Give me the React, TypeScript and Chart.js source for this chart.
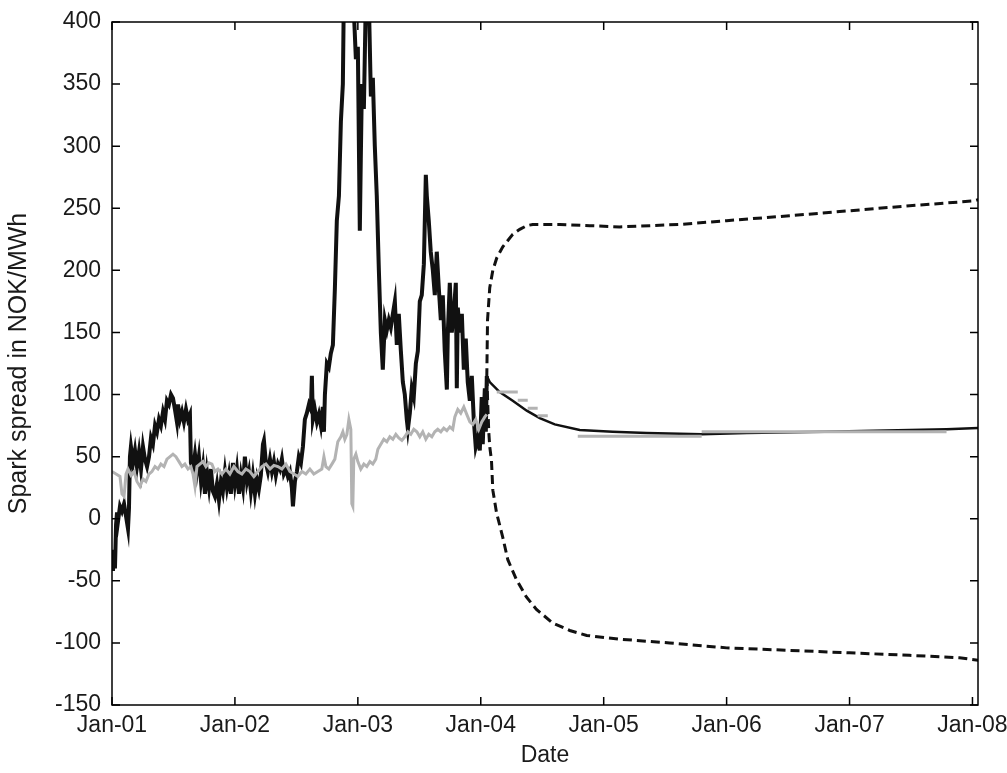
import React, { useEffect, useRef } from "react";
import { Chart, registerables } from "chart.js";

Chart.register(...registerables);

// time axis: years since Jan-01 (2001)
const tickLabels = ["Jan-01", "Jan-02", "Jan-03", "Jan-04", "Jan-05", "Jan-06", "Jan-07", "Jan-08"];

// historical spark spread (black)
const histT = [0.000,0.008,0.016,0.024,0.033,0.041,0.049,0.065,0.081,0.098,0.114,0.130,0.138,0.146,0.154,0.171,0.187,0.203,0.220,0.236,0.252,0.268,0.285,0.301,0.317,0.333,0.350,0.366,0.382,0.398,0.415,0.431,0.447,0.463,0.480,0.496,0.512,0.528,0.537,0.553,0.569,0.585,0.602,0.618,0.634,0.642,0.659,0.675,0.691,0.707,0.724,0.740,0.756,0.772,0.789,0.805,0.821,0.837,0.854,0.870,0.886,0.902,0.919,0.935,0.951,0.967,0.984,1.000,1.016,1.033,1.049,1.065,1.081,1.098,1.114,1.130,1.146,1.163,1.179,1.195,1.211,1.228,1.236,1.252,1.268,1.285,1.301,1.317,1.333,1.350,1.366,1.382,1.398,1.415,1.431,1.447,1.463,1.472,1.488,1.504,1.520,1.537,1.553,1.569,1.585,1.602,1.618,1.626,1.634,1.650,1.667,1.683,1.699,1.715,1.724,1.732,1.748,1.764,1.780,1.797,1.813,1.829,1.846,1.862,1.878,1.886,1.935,1.967,1.984,2.000,2.016,2.024,2.033,2.049,2.065,2.089,2.106,2.122,2.138,2.154,2.171,2.187,2.203,2.220,2.236,2.252,2.268,2.285,2.301,2.317,2.333,2.350,2.366,2.382,2.398,2.407,2.423,2.439,2.455,2.472,2.488,2.504,2.520,2.537,2.553,2.561,2.577,2.593,2.610,2.626,2.642,2.659,2.675,2.691,2.707,2.724,2.732,2.748,2.764,2.780,2.797,2.805,2.813,2.829,2.846,2.862,2.878,2.894,2.911,2.927,2.943,2.959,2.976,2.992,3.008,3.016,3.033,3.041,3.049];
const histSpread = [-30,-42,-25,-40,-5,5,-2,10,6,12,2,-8,8,50,58,45,55,42,54,40,58,48,42,50,65,60,75,70,80,75,86,80,95,92,100,97,88,78,92,80,86,78,88,80,84,45,40,52,38,50,30,42,20,38,25,40,22,18,28,15,30,22,38,25,35,20,45,28,40,20,35,25,50,30,38,22,35,20,32,24,35,60,63,45,38,48,38,46,35,44,40,48,36,40,34,38,25,10,30,38,50,45,58,80,85,92,88,115,80,88,78,84,75,90,70,100,125,122,133,140,185,240,260,320,350,420,450,410,370,380,232,290,350,330,420,420,340,355,300,260,200,150,120,160,152,160,154,165,175,140,165,135,110,100,80,72,85,105,98,125,135,175,180,205,277,260,240,215,200,180,215,185,160,180,135,104,150,190,150,165,190,105,170,150,165,120,145,110,95,115,80,58,65,55,98,60,105,70,115];

// historical grey series
const greyT = [0.000,0.033,0.065,0.081,0.098,0.114,0.130,0.154,0.179,0.203,0.228,0.252,0.276,0.301,0.325,0.350,0.374,0.398,0.423,0.447,0.472,0.496,0.520,0.545,0.569,0.593,0.618,0.642,0.659,0.675,0.691,0.715,0.740,0.764,0.789,0.813,0.837,0.862,0.894,0.927,0.959,0.992,1.024,1.057,1.089,1.122,1.154,1.187,1.220,1.252,1.285,1.317,1.350,1.382,1.415,1.447,1.480,1.512,1.545,1.577,1.610,1.642,1.675,1.707,1.724,1.740,1.764,1.789,1.813,1.837,1.862,1.878,1.894,1.911,1.927,1.943,1.951,1.959,1.967,1.984,2.000,2.024,2.049,2.073,2.098,2.122,2.146,2.163,2.187,2.211,2.236,2.260,2.285,2.309,2.333,2.358,2.382,2.407,2.431,2.455,2.480,2.504,2.528,2.553,2.577,2.602,2.626,2.650,2.675,2.699,2.724,2.748,2.772,2.789,2.813,2.837,2.862,2.886,2.911,2.935,2.959,2.984,3.008,3.033,3.049];
const greySpread = [38,36,34,20,18,36,40,35,38,30,26,32,30,36,38,42,40,44,42,48,50,52,50,46,42,44,40,42,36,26,42,44,46,42,45,44,38,40,36,40,36,42,38,36,40,38,34,38,42,44,40,43,42,40,44,38,36,34,38,36,40,36,38,40,50,42,40,44,48,62,66,70,64,68,80,72,12,10,48,52,46,40,44,42,46,44,48,56,60,64,62,66,64,68,65,63,66,70,68,72,70,66,70,64,68,66,70,72,70,73,71,74,72,82,88,85,90,84,78,76,80,72,78,82,84];

// forward prices (grey steps)
const fwdStart = [3.130, 3.301, 3.382, 3.463, 3.789, 4.797];
const fwdEnd = [3.301, 3.382, 3.463, 3.545, 4.797, 6.789];
const fwdPrice = [102, 95.5, 89, 83, 66.5, 70];

// expected spread (solid thin)
const meanT = [3.049, 3.073, 3.154, 3.260, 3.374, 3.480, 3.602, 3.805, 4.073, 4.350, 4.797, 5.163, 5.797, 6.789, 7.049];
const meanSpread = [115, 110, 102, 95, 87, 81, 76, 71.5, 70, 69, 68, 69, 70, 72, 73];

// confidence bands (dashed)
const upperT = [3.049, 3.055, 3.073, 3.098, 3.130, 3.179, 3.260, 3.317, 3.374, 3.423, 3.642, 3.886, 4.130, 4.374, 4.618, 5.000, 5.512, 6.000, 6.488, 7.016, 7.049];
const upperSpread = [114, 160, 186, 200, 210, 219, 229, 233, 236, 237, 237, 236, 235, 236, 237, 240, 244, 248, 252, 256, 257];
const lowerT = [3.049, 3.065, 3.073, 3.087, 3.098, 3.128, 3.179, 3.220, 3.290, 3.371, 3.453, 3.585, 3.724, 3.862, 4.130, 4.537, 5.000, 5.512, 6.000, 6.488, 6.894, 7.049];
const lowerSpread = [114, 70, 58, 47, 23, 5, -15, -33, -49, -63, -73, -84, -90, -94, -97, -100, -104, -106, -108, -110, -112, -114];

const yTicks = [-150, -100, -50, 0, 50, 100, 150, 200, 250, 300, 350, 400];

const zip = (t: number[], v: number[]) => t.map((x, i) => ({ x, y: v[i] }));

const frameAndTicks = {
  id: "frameAndTicks",
  afterDatasetsDraw(chart: any) {
    const { ctx, chartArea } = chart;
    const { left, right, top, bottom } = chartArea;
    const xs = chart.scales.x;
    const ys = chart.scales.y;
    ctx.save();
    ctx.strokeStyle = "#000";
    ctx.lineWidth = 1.5;
    ctx.strokeRect(left, top, right - left, bottom - top);
    ctx.beginPath();
    const L = 8;
    for (let i = 0; i < tickLabels.length; i++) {
      const px = xs.getPixelForValue(i);
      ctx.moveTo(px, bottom);
      ctx.lineTo(px, bottom - L);
      ctx.moveTo(px, top);
      ctx.lineTo(px, top + L);
    }
    for (const v of yTicks) {
      const py = ys.getPixelForValue(v);
      ctx.moveTo(left, py);
      ctx.lineTo(left + L, py);
      ctx.moveTo(right, py);
      ctx.lineTo(right - L, py);
    }
    ctx.stroke();
    ctx.restore();
  },
};

export default function App() {
  const ref = useRef<HTMLCanvasElement | null>(null);
  useEffect(() => {
    if (!ref.current) return;
    Chart.defaults.font.family = "'Liberation Sans', Arial, sans-serif";
    Chart.defaults.color = "#1a1a1a";
    const fwdData: any[] = [];
    fwdStart.forEach((s, i) => {
      fwdData.push({ x: s, y: fwdPrice[i] });
      fwdData.push({ x: fwdEnd[i], y: fwdPrice[i] });
      fwdData.push({ x: fwdEnd[i] + 0.0001, y: null });
    });
    const common = { pointRadius: 0, fill: false, tension: 0, clip: 0 } as any;
    const chart = new Chart(ref.current, {
      type: "line",
      data: {
        datasets: [
          { ...common, data: zip(greyT, greySpread), borderColor: "#b3b3b3", borderWidth: 3 },
          { ...common, data: fwdData, borderColor: "#b3b3b3", borderWidth: 3, spanGaps: false },
          { ...common, data: zip(meanT, meanSpread), borderColor: "#111", borderWidth: 2.5 },
          { ...common, data: zip(upperT, upperSpread), borderColor: "#111", borderWidth: 3, borderDash: [9, 5] },
          { ...common, data: zip(lowerT, lowerSpread), borderColor: "#111", borderWidth: 3, borderDash: [9, 5] },
          { ...common, data: zip(histT, histSpread), borderColor: "#111", borderWidth: 4 },
        ],
      },
      options: {
        animation: false,
        responsive: false,
        layout: { padding: { top: 22, right: 29, left: 0, bottom: 0 } },
        plugins: { legend: { display: false }, tooltip: { enabled: false } },
        scales: {
          x: {
            type: "linear",
            min: 0,
            max: 7.045,
            grid: { display: false, drawTicks: false },
            border: { display: false },
            afterBuildTicks: (s: any) => {
              s.ticks = tickLabels.map((_, i) => ({ value: i }));
            },
            afterFit: (s: any) => {
              s.height = 68;
              s.paddingLeft = 0;
              s.paddingRight = 0;
            },
            ticks: {
              autoSkip: false,
              maxRotation: 0,
              padding: 7,
              font: { size: 23 },
              callback: (v: any) => tickLabels[Math.round(Number(v))] ?? "",
            },
            title: { display: true, text: "Date", font: { size: 23 }, padding: { top: 2, bottom: 4 } },
          },
          y: {
            type: "linear",
            min: -150,
            max: 400,
            grid: { display: false, drawTicks: false },
            border: { display: false },
            afterBuildTicks: (s: any) => {
              s.ticks = yTicks.map((v) => ({ value: v }));
            },
            afterFit: (s: any) => {
              s.width = 112;
              s.paddingTop = 0;
              s.paddingBottom = 0;
            },
            ticks: { padding: 11, font: { size: 23 } },
            title: { display: true, text: "Spark spread in NOK/MWh", font: { size: 25 }, padding: { top: 4, bottom: 0 } },
          },
        },
      },
      plugins: [frameAndTicks],
    });
    return () => chart.destroy();
  }, []);
  return (
    <div style={{ position: "absolute", left: 0, top: 0, width: 1007, height: 773, background: "#fff" }}>
      <canvas ref={ref} width={1007} height={773} style={{ display: "block" }} />
    </div>
  );
}
